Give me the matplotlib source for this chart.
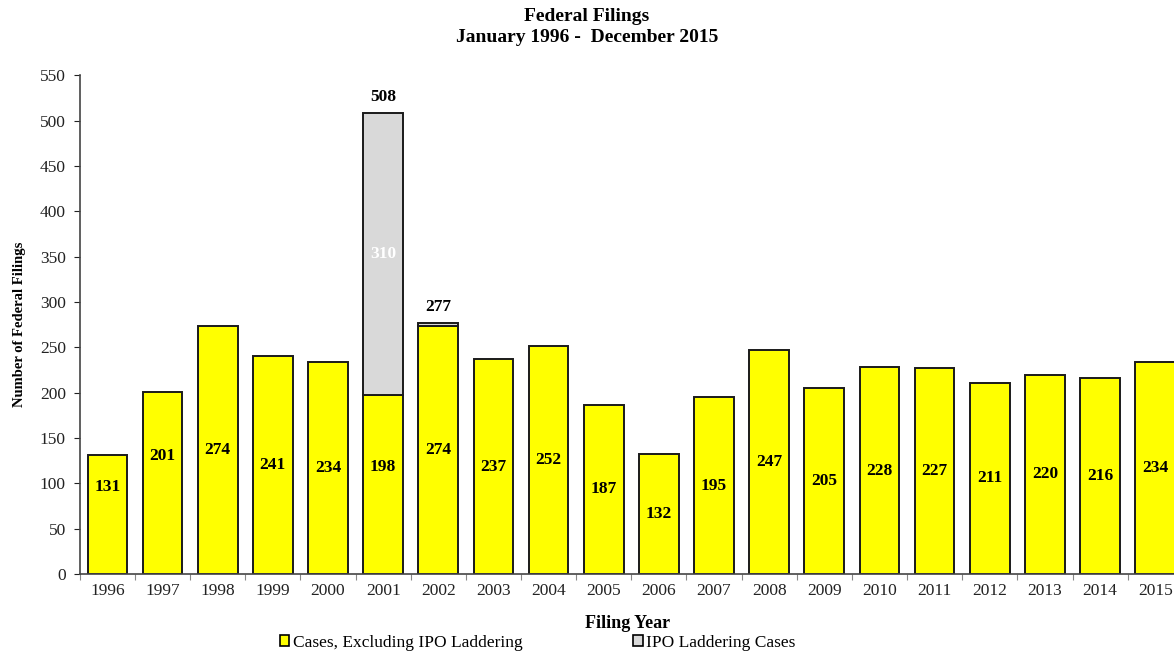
import matplotlib
matplotlib.use('Agg')
import matplotlib.pyplot as plt
from matplotlib.patches import Patch
import numpy as np

plt.rcParams['font.family'] = 'Liberation Serif'

# filings by year, IPO laddering cases counted separately
years = [str(y) for y in range(1996, 2016)]
cases_excl_ipo = [131, 201, 274, 241, 234, 198, 274, 237, 252, 187,
                  132, 195, 247, 205, 228, 227, 211, 220, 216, 234]
ipo_laddering = [0, 0, 0, 0, 0, 310, 3, 0, 0, 0,
                 0, 0, 0, 0, 0, 0, 0, 0, 0, 0]

x = np.arange(len(years))
base = np.array(cases_excl_ipo)
ipo = np.array(ipo_laddering)
totals = base + ipo

fig = plt.figure(figsize=(11.74, 6.51), dpi=100)
ax = fig.add_axes([0.068, 0.118, 0.9395, 0.7665])

yellow = '#ffff00'
grey = '#d9d9d9'
ax.bar(x, base, width=0.72, color=yellow, edgecolor='#1a1a1a', linewidth=1.4)
ax.bar(x[ipo > 0], ipo[ipo > 0], bottom=base[ipo > 0], width=0.72,
       color=grey, edgecolor='#1a1a1a', linewidth=1.4)

# labels inside the yellow bars, a few lifted off the middle
nudge = {0: 31, 1: 30, 5: 19}
for i, v in enumerate(base):
    ax.text(x[i], v / 2 + nudge.get(i, 0), str(v), ha='center', va='center',
            fontsize=12.5, fontweight='bold', color='black')

# IPO laddering count and totals on top
for i in x[ipo > 10]:
    ax.text(i, base[i] + ipo[i] / 2, str(ipo[i]), ha='center', va='center',
            fontsize=12.5, fontweight='bold', color='white')
for i in x[ipo > 0]:
    ax.text(i, totals[i] + 9, str(totals[i]), ha='center', va='bottom',
            fontsize=12.5, fontweight='bold', color='black')

ax.set_xlim(-0.5, len(years) - 0.5)
ax.set_ylim(0, 550)
ax.set_yticks(range(0, 551, 50))
ax.tick_params(axis='y', direction='out', length=4, width=0.8, labelsize=12.5,
               colors='#222222', pad=6)

# ticks between the bars, year labels under the bars
ax.set_xticks(np.arange(-0.5, len(years), 1.0))
ax.set_xticklabels([])
ax.tick_params(axis='x', which='major', direction='out', length=4, width=0.8,
               color='#888888')
ax.set_xticks(x, minor=True)
ax.set_xticklabels(years, minor=True, fontsize=12.5, color='#222222')
ax.tick_params(axis='x', which='minor', length=0, pad=6)

for s in ['top', 'right']:
    ax.spines[s].set_visible(False)
ax.spines['left'].set_color('#444444')
ax.spines['bottom'].set_color('#444444')
ax.spines['left'].set_linewidth(1.2)
ax.spines['bottom'].set_linewidth(1.2)

ax.set_ylabel('Number of Federal Filings', fontsize=10.5, fontweight='bold',
              labelpad=10)
ax.set_xlabel('Filing Year', fontsize=13, fontweight='bold')
ax.xaxis.set_label_coords(0.497, -0.082)

fig.text(0.5, 0.974, 'Federal Filings', ha='center', va='center',
         fontsize=14, fontweight='bold')
fig.text(0.5, 0.942, 'January 1996 -  December 2015', ha='center', va='center',
         fontsize=14, fontweight='bold')

handles = [Patch(facecolor=yellow, edgecolor='black', linewidth=1.2),
           Patch(facecolor=grey, edgecolor='black', linewidth=1.2)]
fig.legend(handles, ['Cases, Excluding IPO Laddering', 'IPO Laddering Cases'],
           loc='center', bbox_to_anchor=(0.458, 0.013), ncol=2, frameon=False,
           fontsize=12.5, handlelength=0.55, handleheight=0.55,
           handletextpad=0.2, columnspacing=6.4, borderaxespad=0)

fig.savefig('out.png', dpi=100)
